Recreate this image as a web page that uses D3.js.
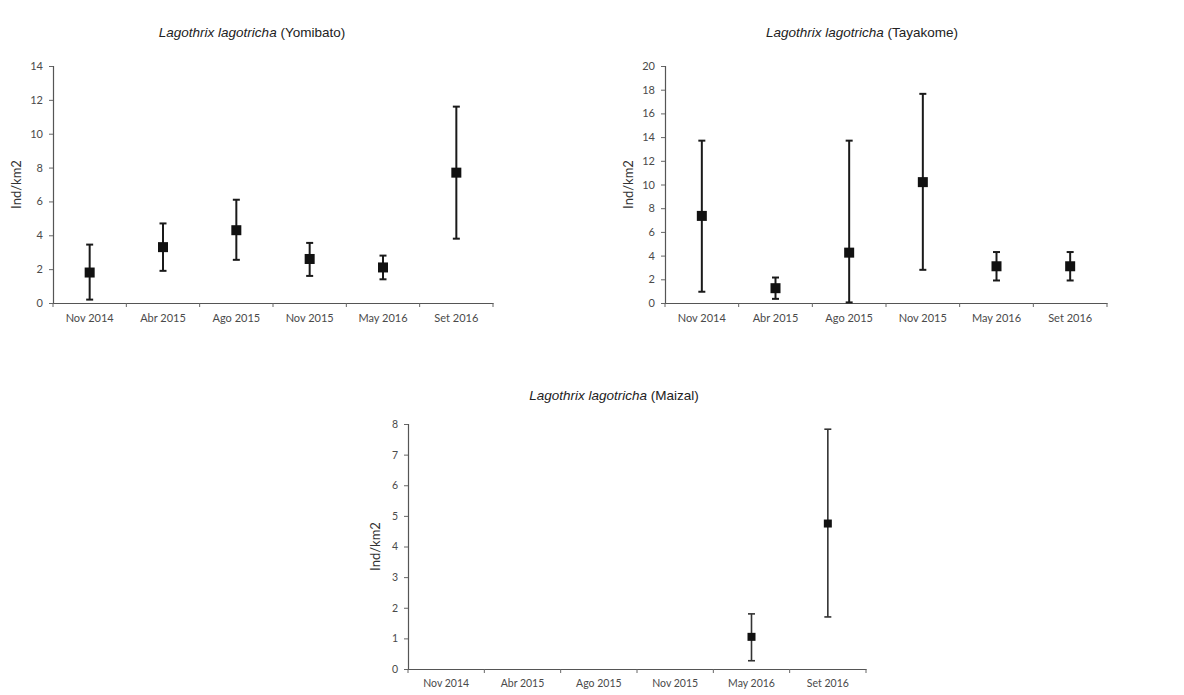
<!DOCTYPE html>
<html>
<head>
<meta charset="utf-8">
<script src="https://cdn.jsdelivr.net/npm/d3@7"></script>
<style>
  html, body { margin: 0; padding: 0; background: #fff; }
  svg { display: block; }
  .tick-label { font-family: "Lato", "Open Sans", sans-serif; fill: #4a4a4a; }
  .title { font-family: "Liberation Sans Narrow", "Liberation Sans", Arial, sans-serif; fill: #222; }
  .ylab { font-family: "Lato", "Open Sans", sans-serif; fill: #333; }
</style>
</head>
<body>
<svg id="chart" width="1184" height="695"></svg>
<script>
// Sampling campaigns shared by the three sites
const categories = ["Nov 2014", "Abr 2015", "Ago 2015", "Nov 2015", "May 2016", "Set 2016"];

// Yomibato: density (Ind/km2) with lower / upper confidence limits
const yomibatoMean = [1.8, 3.3, 4.3, 2.6, 2.1, 7.7];
const yomibatoLow  = [0.2, 1.9, 2.55, 1.6, 1.4, 3.8];
const yomibatoHigh = [3.45, 4.7, 6.1, 3.55, 2.8, 11.6];
const yomibatoTicks = [0, 2, 4, 6, 8, 10, 12, 14];

// Tayakome
const tayakomeMean = [7.35, 1.25, 4.25, 10.2, 3.1, 3.1];
const tayakomeLow  = [0.95, 0.35, 0.05, 2.8, 1.9, 1.9];
const tayakomeHigh = [13.7, 2.15, 13.7, 17.65, 4.3, 4.3];
const tayakomeTicks = [0, 2, 4, 6, 8, 10, 12, 14, 16, 18, 20];

// Maizal: no records before May 2016
const maizalMean = [null, null, null, null, 1.05, 4.75];
const maizalLow  = [null, null, null, null, 0.27, 1.7];
const maizalHigh = [null, null, null, null, 1.8, 7.83];
const maizalTicks = [0, 1, 2, 3, 4, 5, 6, 7, 8];

const svg = d3.select("#chart");

function panel(opts) {
  const { x0, x1, yTop, yBottom, ticks, mean, low, high, site, titleX, titleY, ylabX, marker, barW, barColor, fs, tickColor } = opts;
  const g = svg.append("g");

  const x = d3.scaleBand().domain(categories).range([x0, x1]).padding(0);
  const y = d3.scaleLinear().domain([0, d3.max(ticks)]).range([yBottom, yTop]);

  // y axis
  const yAxis = g.append("g").attr("transform", `translate(${x0},0)`)
    .call(d3.axisLeft(y).tickValues(ticks).tickSize(4).tickPadding(6));
  yAxis.select(".domain").attr("stroke", "#555").attr("stroke-width", 1.2);
  yAxis.selectAll(".tick line").attr("stroke", "#666");
  yAxis.selectAll(".tick text").attr("class", "tick-label").attr("font-size", fs).attr("fill", tickColor);

  // x axis: labels centred in each band, tick marks on band boundaries
  const xAxis = g.append("g").attr("transform", `translate(0,${yBottom})`)
    .call(d3.axisBottom(x).tickSize(0).tickPadding(11));
  xAxis.select(".domain").attr("stroke", "#555").attr("stroke-width", 1.2);
  xAxis.selectAll(".tick text").attr("class", "tick-label").attr("font-size", fs).attr("fill", tickColor);
  const bounds = categories.map(c => x(c)).concat([x1]);
  g.append("g").selectAll("line").data(bounds).join("line")
    .attr("x1", d => d).attr("x2", d => d)
    .attr("y1", yBottom).attr("y2", yBottom + 4)
    .attr("stroke", "#666").attr("stroke-width", 1);

  // title
  const t = g.append("text").attr("class", "title")
    .attr("x", titleX).attr("y", titleY).attr("text-anchor", "middle")
    .attr("font-size", 13.5);
  t.append("tspan").attr("font-style", "italic").text("Lagothrix lagotricha");
  t.append("tspan").text(` (${site})`);

  // y label
  g.append("text").attr("class", "ylab")
    .attr("transform", `translate(${ylabX},${(yTop + yBottom) / 2}) rotate(-90)`)
    .attr("text-anchor", "middle").attr("font-size", 13)
    .text("Ind/km2");

  const rows = categories.map((c, i) => ({ c, m: mean[i], lo: low[i], hi: high[i] }))
    .filter(d => d.m !== null);
  const cx = d => x(d.c) + x.bandwidth() / 2;

  // error bars
  const eb = g.append("g").selectAll("g").data(rows).join("g");
  eb.append("line")
    .attr("x1", cx).attr("x2", cx)
    .attr("y1", d => y(d.lo)).attr("y2", d => y(d.hi))
    .attr("stroke", barColor).attr("stroke-width", barW);
  eb.append("line")
    .attr("x1", d => cx(d) - 3.5).attr("x2", d => cx(d) + 3.5)
    .attr("y1", d => y(d.hi)).attr("y2", d => y(d.hi))
    .attr("stroke", barColor).attr("stroke-width", barW);
  eb.append("line")
    .attr("x1", d => cx(d) - 3.5).attr("x2", d => cx(d) + 3.5)
    .attr("y1", d => y(d.lo)).attr("y2", d => y(d.lo))
    .attr("stroke", barColor).attr("stroke-width", barW);

  // mean markers
  g.append("g").selectAll("rect").data(rows).join("rect")
    .attr("x", d => cx(d) - marker / 2).attr("y", d => y(d.m) - marker / 2)
    .attr("width", marker).attr("height", marker)
    .attr("fill", "#111");
}

panel({
  x0: 53, x1: 493, yTop: 66, yBottom: 303, ticks: yomibatoTicks,
  mean: yomibatoMean, low: yomibatoLow, high: yomibatoHigh, site: "Yomibato",
  titleX: 252, titleY: 37, ylabX: 21, marker: 10, barW: 2, barColor: "#1a1a1a", fs: 11, tickColor: "#4a4a4a"
});

panel({
  x0: 665, x1: 1107, yTop: 66, yBottom: 303, ticks: tayakomeTicks,
  mean: tayakomeMean, low: tayakomeLow, high: tayakomeHigh, site: "Tayakome",
  titleX: 862, titleY: 37, ylabX: 633, marker: 10, barW: 2, barColor: "#1a1a1a", fs: 11, tickColor: "#4a4a4a"
});

panel({
  x0: 408, x1: 866, yTop: 424, yBottom: 669, ticks: maizalTicks,
  mean: maizalMean, low: maizalLow, high: maizalHigh, site: "Maizal",
  titleX: 614, titleY: 400, ylabX: 380, marker: 8, barW: 1.6, barColor: "#333", fs: 10.5, tickColor: "#666"
});
</script>
</body>
</html>
